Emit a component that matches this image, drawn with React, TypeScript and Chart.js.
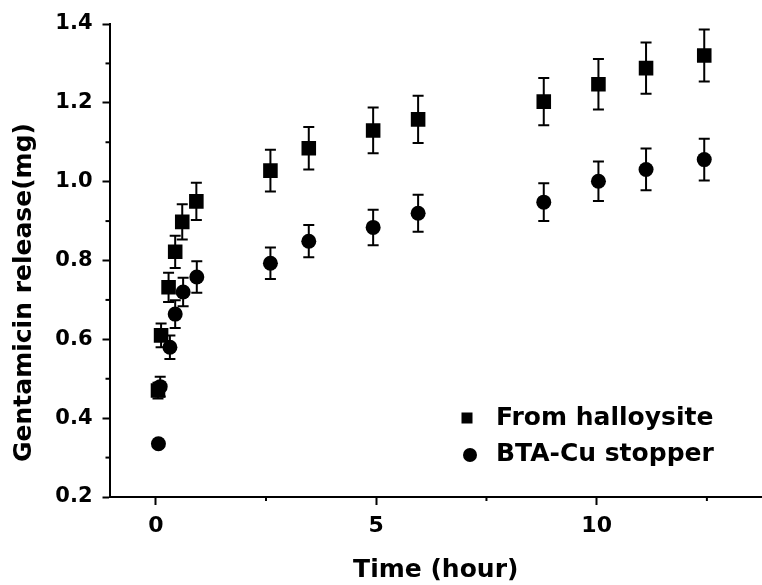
import React, { useEffect, useRef } from "react";
import { Chart, registerables } from "chart.js";

Chart.register(...registerables);

// ---- data ----
const halloysiteTime = [0.05, 0.12, 0.29, 0.44, 0.6, 0.92, 2.6, 3.47, 4.93, 5.95, 8.8, 10.04, 11.12, 12.44];
const halloysiteRelease = [0.47, 0.61, 0.732, 0.822, 0.898, 0.95, 1.028, 1.085, 1.13, 1.158, 1.203, 1.247, 1.288, 1.32];
const halloysiteError = [0.02, 0.03, 0.037, 0.041, 0.045, 0.047, 0.053, 0.054, 0.058, 0.06, 0.06, 0.064, 0.065, 0.066];

const stopperTime = [0.06, 0.1, 0.32, 0.44, 0.62, 0.93, 2.6, 3.47, 4.93, 5.95, 8.8, 10.04, 11.12, 12.44];
const stopperRelease = [0.335, 0.48, 0.58, 0.664, 0.72, 0.758, 0.793, 0.849, 0.884, 0.92, 0.948, 1.001, 1.031, 1.056];
const stopperError = [0.01, 0.025, 0.03, 0.035, 0.036, 0.04, 0.04, 0.041, 0.045, 0.047, 0.048, 0.05, 0.053, 0.053];

const seriesNames = ["From halloysite", "BTA-Cu stopper"];
const xTitle = "Time (hour)";
const yTitle = "Gentamicin release(mg)";
const xTickValues = [0, 2.5, 5, 7.5, 10, 12.5];
const xTickLabels = ["0", "", "5", "", "10", ""];
const yMin = 0.2;
const yMax = 1.4;
const yStep = 0.1;

const FONT = "'DejaVu Sans', 'Liberation Sans', sans-serif";

export default function App() {
  const canvasRef = useRef<HTMLCanvasElement>(null);

  useEffect(() => {
    const canvas = canvasRef.current;
    if (!canvas) return;
    const errorSets = [halloysiteError, stopperError];

    const isMajorY = (v: number) => Math.round(v * 10) % 2 === 0;
    const isMajorX = (v: number) => Math.abs(v % 5) < 1e-9;

    const errorBars = {
      id: "errorBars",
      beforeDatasetsDraw(chart: any) {
        const { ctx, scales } = chart;
        const x = scales.x;
        const y = scales.y;
        ctx.save();
        ctx.strokeStyle = "#000";
        ctx.lineWidth = 2;
        chart.data.datasets.forEach((ds: any, i: number) => {
          const errs = errorSets[i];
          ds.data.forEach((p: any, j: number) => {
            const px = x.getPixelForValue(p.x);
            const top = y.getPixelForValue(p.y + errs[j]);
            const bot = y.getPixelForValue(p.y - errs[j]);
            ctx.beginPath();
            ctx.moveTo(px, top);
            ctx.lineTo(px, bot);
            ctx.moveTo(px - 5.5, top);
            ctx.lineTo(px + 5.5, top);
            ctx.moveTo(px - 5.5, bot);
            ctx.lineTo(px + 5.5, bot);
            ctx.stroke();
          });
        });
        ctx.restore();
      },
    };

    const extras = {
      id: "extras",
      afterDraw(chart: any) {
        const { ctx, scales, chartArea } = chart;
        const x = scales.x;
        const y = scales.y;
        ctx.save();
        ctx.strokeStyle = "#000";
        ctx.lineWidth = 2;
        // minor ticks
        y.ticks.forEach((t: any) => {
          if (!isMajorY(t.value)) {
            const py = y.getPixelForValue(t.value);
            ctx.beginPath();
            ctx.moveTo(chartArea.left, py);
            ctx.lineTo(chartArea.left - 4, py);
            ctx.stroke();
          }
        });
        x.ticks.forEach((t: any) => {
          if (!isMajorX(t.value)) {
            const px = x.getPixelForValue(t.value);
            ctx.beginPath();
            ctx.moveTo(px, chartArea.bottom);
            ctx.lineTo(px, chartArea.bottom + 4);
            ctx.stroke();
          }
        });
        // y title
        ctx.fillStyle = "#000";
        ctx.font = `bold 25px ${FONT}`;
        ctx.save();
        ctx.translate(31, 292.5);
        ctx.rotate(-Math.PI / 2);
        ctx.textAlign = "center";
        ctx.textBaseline = "alphabetic";
        ctx.fillText(yTitle, 0, 0);
        ctx.restore();
        // legend
        ctx.fillRect(467 - 5.5, 418 - 5.5, 11, 11);
        ctx.beginPath();
        ctx.arc(470, 455, 7, 0, Math.PI * 2);
        ctx.fill();
        ctx.textAlign = "left";
        ctx.textBaseline = "alphabetic";
        ctx.fillText(seriesNames[0], 496, 425);
        ctx.fillText(seriesNames[1], 496, 461);
        ctx.restore();
      },
    };

    const chart = new Chart(canvas, {
      type: "scatter",
      data: {
        datasets: [
          {
            label: seriesNames[0],
            data: halloysiteTime.map((t, i) => ({ x: t, y: halloysiteRelease[i] })),
            pointStyle: "rect",
            pointRadius: 10.3,
            pointBackgroundColor: "#000",
            pointBorderColor: "#000",
            pointBorderWidth: 0,
            order: 2,
          },
          {
            label: seriesNames[1],
            data: stopperTime.map((t, i) => ({ x: t, y: stopperRelease[i] })),
            pointStyle: "circle",
            pointRadius: 7.5,
            pointBackgroundColor: "#000",
            pointBorderColor: "#000",
            pointBorderWidth: 0,
            order: 1,
          },
        ],
      },
      options: {
        animation: false,
        responsive: false,
        devicePixelRatio: 1,
        layout: { autoPadding: false, padding: { top: 24, left: 0, right: 0, bottom: 0 } },
        plugins: {
          legend: { display: false },
          tooltip: { enabled: false },
        },
        scales: {
          x: {
            type: "linear",
            min: -1.05,
            max: 13.75,
            afterBuildTicks: (scale: any) => {
              scale.ticks = xTickValues.map((v) => ({ value: v }));
            },
            afterFit: (scale: any) => {
              scale.height = 88;
            },
            ticks: {
              autoSkip: false,
              maxRotation: 0,
              padding: 8,
              color: "#000",
              font: { family: FONT, size: 22, weight: "bold" },
              callback: (_v: any, i: number) => xTickLabels[i],
            },
            grid: {
              display: true,
              drawOnChartArea: false,
              drawTicks: true,
              tickLength: 8,
              tickWidth: 2,
              tickColor: (c: any) => (c.tick && isMajorX(c.tick.value) ? "#000" : "rgba(0,0,0,0)"),
            },
            border: { display: true, color: "#000", width: 2 },
            title: {
              display: true,
              text: xTitle,
              color: "#000",
              font: { family: FONT, size: 25, weight: "bold" },
              padding: { top: 0, bottom: 0 },
            },
          },
          y: {
            type: "linear",
            min: yMin,
            max: yMax,
            afterFit: (scale: any) => {
              scale.width = 109.5;
            },
            ticks: {
              stepSize: yStep,
              autoSkip: false,
              padding: 10,
              color: "#000",
              font: { family: FONT, size: 21, weight: "bold" },
              callback: (v: any) => (isMajorY(Number(v)) ? Number(v).toFixed(1) : ""),
            },
            grid: {
              display: true,
              drawOnChartArea: false,
              drawTicks: true,
              tickLength: 7,
              tickWidth: 2,
              tickColor: (c: any) => (c.tick && isMajorY(c.tick.value) ? "#000" : "rgba(0,0,0,0)"),
            },
            border: { display: true, color: "#000", width: 2 },
          },
        },
      },
      plugins: [errorBars, extras],
    });

    return () => chart.destroy();
  }, []);

  return (
    <div
      style={{
        position: "absolute",
        left: 0,
        top: 0,
        width: 762,
        height: 585,
        background: "#fff",
      }}
    >
      <canvas ref={canvasRef} width={762} height={585} style={{ display: "block" }} />
    </div>
  );
}
